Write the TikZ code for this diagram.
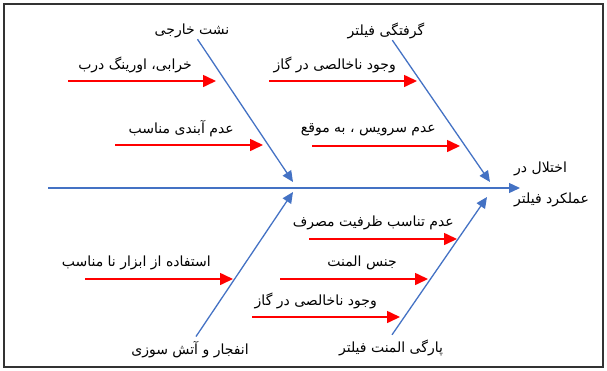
\documentclass[tikz,border=0pt]{standalone}
\usepackage{fontspec}
\newfontfamily\arabicfont[Script=Arabic]{DejaVu Sans}
\TeXXeTstate=1
\usetikzlibrary{arrows.meta}
\definecolor{boneblue}{RGB}{68,114,196}
\tikzset{
  bone/.style={boneblue, line width=1.3pt, -{Triangle[length=11pt, width=10pt]}},
  cause/.style={red, line width=1.6pt, -{Triangle[length=13pt, width=12pt]}},
  fatext/.style={font=\arabicfont\fontsize{14}{16}\selectfont, inner sep=1pt},
}
\newcommand{\fa}[1]{\beginR #1\endR}

\begin{document}
\begin{tikzpicture}[x=1pt, y=-1pt]
\useasboundingbox (0,0) rectangle (607,370);
\draw[line width=1.8pt, black!80] (4,4) rectangle (603,367);
\coordinate (tail) at (48,188);
\coordinate (head) at (520,188);
\draw[bone] (tail) -- (head);
\node[fatext, align=left, anchor=west] (fault) at (513,184) {\fa{اختلال در}\\[15pt]\fa{عملکرد فیلتر}};
\node[fatext] (leak) at (192,31) {\fa{نشت خارجی}};
\node[fatext] (clog) at (386,31) {\fa{گرفتگی فیلتر}};
\node[fatext] (blast) at (190,350) {\fa{انفجار و آتش سوزی}};
\node[fatext] (tear) at (391,348) {\fa{پارگی المنت فیلتر}};
\coordinate (leakend) at (293,182);
\coordinate (clogend) at (490,182);
\coordinate (blastend) at (293,192);
\coordinate (tearend) at (487,197);
\foreach \b in {leak, clog}
  \draw[bone] (\b) -- (\b end);
\draw[bone] ([xshift=6pt, yshift=4pt]blast.north) -- (blastend);
\draw[bone] ([xshift=1pt, yshift=4pt]tear.north) -- (tearend);
\foreach \n/\tx/\ty/\xe/\txt in {1/216/81/193/خرابی، اورینگ درب, 2/263/145/235/عدم آبندی مناسب,
    3/417/81/397/وجود ناخالصی در گاز, 4/460/146/437/عدم سرویس ، به موقع,
    5/233/279/212/استفاده از ابزار نا مناسب, 6/457/239/455/عدم تناسب ظرفیت مصرف,
    7/428/279/398/جنس المنت, 8/400/317/378/وجود ناخالصی در گاز}
{
  \coordinate (tip\n) at (\tx,\ty);
  \path (tip\n) ++(-148,0) coordinate (start\n);
  \draw[cause] (start\n) -- (tip\n);
  \node[fatext, anchor=east] (cause\n) at (\xe,\ty-16) {\fa{\txt}};
}
\end{tikzpicture}
\end{document}
